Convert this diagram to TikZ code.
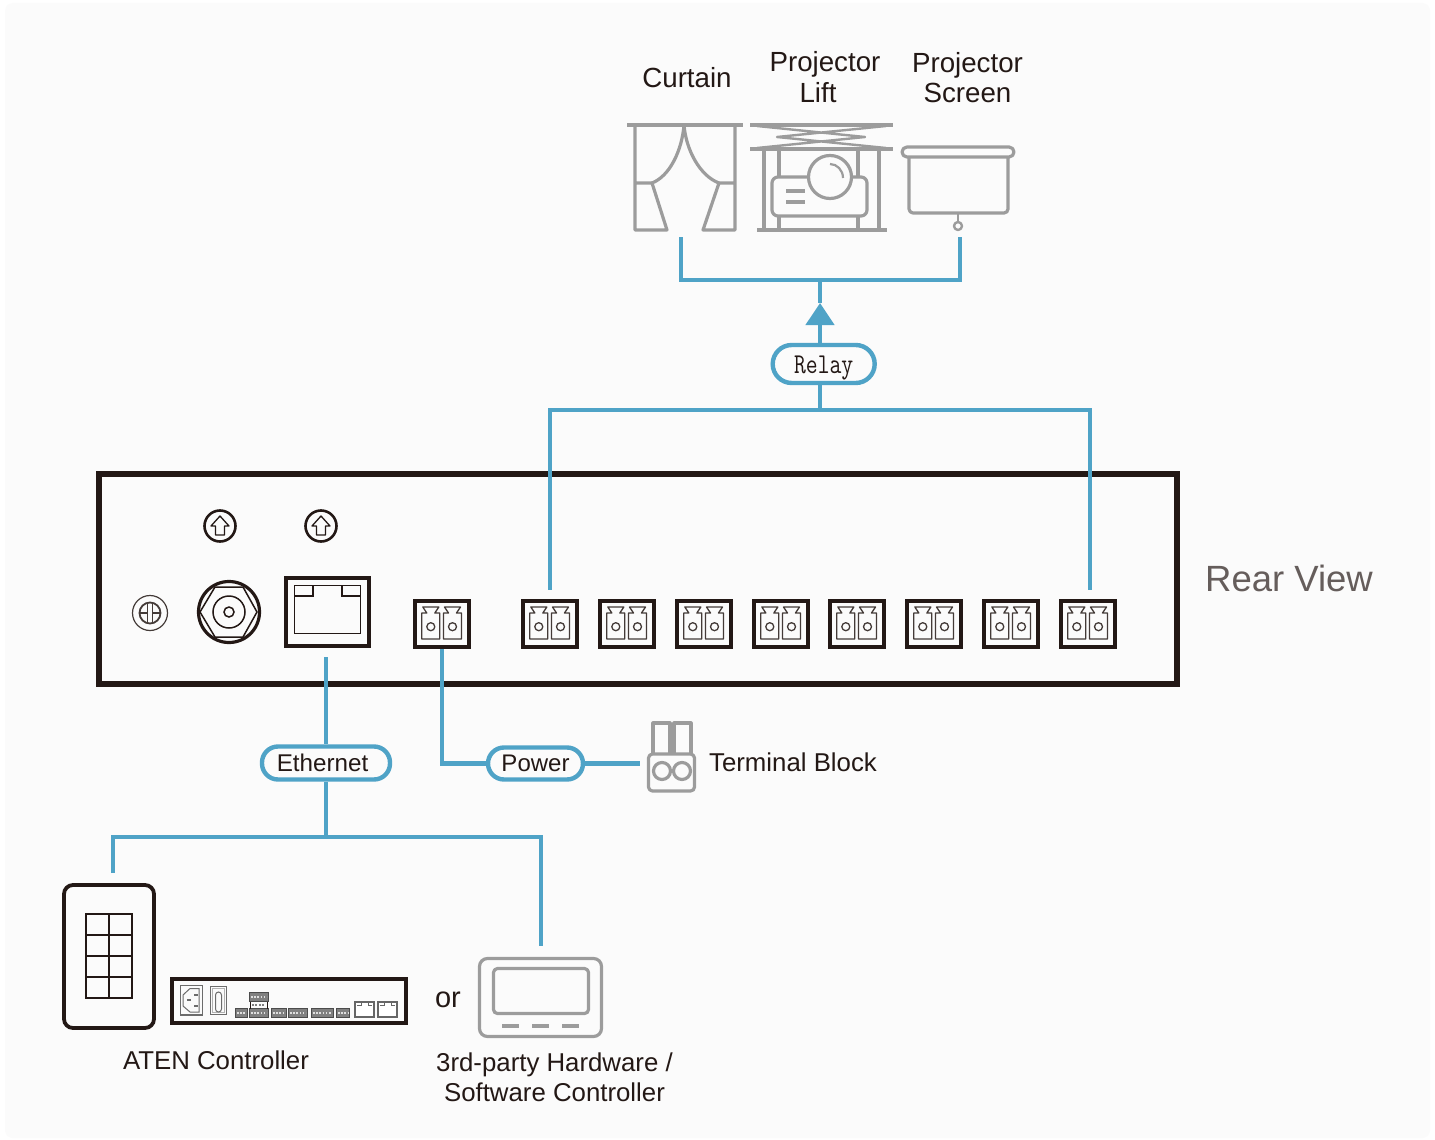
\documentclass[tikz,border=0pt]{standalone}
\usepackage{fontspec}
\setmainfont{Liberation Sans}
\usetikzlibrary{arrows.meta}
\definecolor{linkblue}{HTML}{4FA3C7}
\definecolor{icongray}{HTML}{9C9C9C}
\definecolor{darkline}{HTML}{231815}
\definecolor{pagebg}{HTML}{FBFBFB}
\definecolor{jackgray}{HTML}{808080}
\tikzset{
    toplabel/.style={text=darkline, align=center, inner sep=0pt, font=\fontsize{27.7}{30.5}\selectfont},
    label/.style={text=darkline, align=center, inner sep=0pt, font=\fontsize{25.8}{30.5}\selectfont},
    link/.style={draw=linkblue, line width=4.4pt},
    pill/.style={draw=linkblue, line width=4.4pt, fill=pagebg, rounded corners=16pt, inner sep=0pt, text=darkline},
    icon/.style={draw=icongray, line width=3.2pt, line join=round},
    dark/.style={draw=darkline, line width=3.8pt},
    termblock/.style={dark, minimum width=54.5pt, minimum height=46.5pt, inner sep=0pt},
    termports/.pic={
        \foreach \dx in {-11.2,10.5}{
            \draw[darkline!85, line width=1.3pt, line join=round, shift={(\dx,0)}]
                (-8,-17) -- (8,-17) -- (4,-11) -- (9,-11) -- (9,15) -- (-9,15) -- (-9,-11) -- (-4,-11) -- cycle
                (0,2.7) circle (4);
        }
    },
    upmark/.pic={
        \draw[darkline, line width=2.6pt] (0,0) circle (15.5);
        \draw[darkline, line width=1.3pt, line join=round]
            (0,-10) -- (9,0) -- (4.5,0) -- (4.5,9) -- (-4.5,9) -- (-4.5,0) -- (-9,0) -- cycle;
    },
    minijack/.style={fill=jackgray, draw=gray!60!black, line width=.8pt},
    jackpins/.style={draw=white!75!gray, line width=2pt, dash pattern=on 1.6pt off 1.6pt},
    minirj/.style={draw=gray!80!black, line width=1.6pt, fill=white},
}
\begin{document}
\begin{tikzpicture}[x=1pt,y=-1pt]
    \useasboundingbox (0,0) rectangle (1435,1140);
    \fill[white] (0,0) rectangle (1435,1140);
    \fill[pagebg, rounded corners=8pt] (5,3) rectangle (1430,1138);

    % rear panel
    \node[draw=darkline, line width=6pt, minimum width=1078pt, minimum height=210pt, inner sep=0pt] (panel) at (638,579) {};
    \node[label, text=darkline!70, font=\fontsize{36.5}{40}\selectfont] (rearview) at (1289,578) {Rear View};
    \pic at (220,526) {upmark};
    \pic at (321,526) {upmark};

    % ground screw
    \coordinate (gnd) at (150,613);
    \draw[darkline!85, line width=1.2pt] (gnd) circle (17.5);
    \draw[darkline!85, line width=1.8pt] (gnd) circle (10.5);
    \draw[darkline!85, line width=1.2pt]
        ([xshift=-2.5pt,yshift=-10pt]gnd) -- ([xshift=-2.5pt,yshift=10pt]gnd)
        ([xshift=2.5pt,yshift=-10pt]gnd) -- ([xshift=2.5pt,yshift=10pt]gnd)
        ([xshift=-10pt]gnd) -- ([xshift=-2.5pt]gnd)
        ([xshift=2.5pt]gnd) -- ([xshift=10pt]gnd);

    % coax
    \coordinate (coax) at (229,612);
    \draw[darkline, line width=3.2pt] (coax) circle (30.5);
    \draw[darkline, line width=1.5pt] (200,612) -- (215,587) -- (243,587) -- (257,612) -- (243,637) -- (215,637) -- cycle;
    \draw[darkline, line width=1.5pt] (coax) circle (16);
    \draw[darkline, line width=1.5pt] (coax) circle (5);

    % lan port
    \node[dark, minimum width=83pt, minimum height=68.5pt, inner sep=0pt] (lan) at (327.5,612) {};
    \draw[darkline, line width=1.5pt] (294.5,585.5) rectangle (360.5,633.5);
    \draw[darkline, line width=1.5pt] (294.5,596) -- (313,596) -- (313,585.5) (342,585.5) -- (342,596) -- (360.5,596);

    % terminals
    \node[termblock] (pwr) at (442,624) {};
    \pic at (pwr) {termports};
    \foreach \n/\x in {1/550,2/627,3/704,4/781,5/857,6/934,7/1011,8/1088}{
        \node[termblock] (t\n) at (\x,624) {};
        \pic at (t\n) {termports};
    }

    % curtain
    \draw[icon] (627,125) -- (743,125);
    \draw[icon] (635,125) -- (635,230) -- (667,230) -- (652,183) -- (635,183);
    \draw[icon] (735,125) -- (735,230) -- (703,230) -- (719,183) -- (735,183);
    \draw[icon] (652,183) .. controls (670,176) and (682,150) .. (684,125) .. controls (686,150) and (700,176) .. (719,183);
    \node[toplabel] (curtain) at (687,78) {Curtain};

    % projector lift
    \draw[icon] (750,125) -- (893,125) (750,149) -- (893,149);
    \draw[icon, line width=2.4pt] (757,126) -- (865,137) -- (757,148) (886,126) -- (777,137) -- (886,148);
    \draw[icon] (764,149) -- (764,230) (879,149) -- (879,230) (757,230) -- (887,230);
    \draw[icon] (779,149) -- (779,177) (858,149) -- (858,177) (779,216) -- (779,230) (858,216) -- (858,230);
    \draw[icon, rounded corners=6pt] (772,177) rectangle (867,216);
    \draw[icon, fill=pagebg] (830,177) circle (21.5);
    \draw[icon, line width=2.2pt] (830,164) arc[start angle=-90, end angle=0, x radius=13pt, y radius=-14pt];
    \draw[icon] (786,191) -- (805,191) (786,202) -- (805,202);
    \node[toplabel] (lift) at (818,77) {\hspace*{14pt}Projector\\Lift};

    % projector screen
    \draw[icon, rounded corners=5pt] (902,147) rectangle (1014,157);
    \draw[icon, rounded corners=4pt] (909,157) -- (909,213) -- (1008,213) -- (1008,157);
    \draw[icon, line width=2.4pt] (958,213) -- (958,222);
    \draw[icon, line width=2.4pt] (958,226) circle (4);
    \node[toplabel] (screen) at (967.5,77.5) {Projector\\Screen};

    % relay links
    \coordinate (curtainend) at (681,237);
    \coordinate (screenend) at (960,237);
    \coordinate (relayjoin) at (820,280);
    \coordinate (relaytip) at (820,303);
    \node[pill, minimum width=102pt, minimum height=38pt, rounded corners=19pt, font=\ttfamily\fontsize{23}{26}\selectfont] (relay) at (823.7,364) {\raisebox{-9.5pt}[0pt][0pt]{\scalebox{1}[1.25]{Relay}}};
    \coordinate (relaybus) at (820,410);
    \draw[link] (curtainend) |- (relayjoin) -| (screenend);
    \draw[link] (relayjoin) -- (relaytip);
    \draw[link, -{Triangle[length=22pt,width=28pt]}] (820,343) -- (relaytip);
    \draw[link] (820,384) -- (relaybus);
    \draw[link, shorten <=9pt] (t1.north) |- (relaybus);
    \draw[link, shorten <=9pt] ([xshift=2pt]t8.north) |- (relaybus);

    % ethernet
    \node[pill, minimum width=128pt, minimum height=33pt, font=\fontsize{24.2}{28}\selectfont, text depth=0pt] (eth) at (326,763) {\hspace*{-7pt}Ethernet};
    \coordinate (ethjoin) at (326,837);
    \coordinate (atenend) at (113,873);
    \coordinate (thirdend) at (541,946);
    \draw[link, shorten <=9pt] ([xshift=-1.5pt]lan.south) -- (eth.north);
    \draw[link] (eth.south) -- (ethjoin);
    \draw[link] (atenend) |- (ethjoin) -| (thirdend);

    % power
    \node[pill, minimum width=95pt, minimum height=32pt, font=\fontsize{24}{28}\selectfont] (power) at (535.5,763.5) {Power};
    \node[label] (tblabel) at (793,762) {Terminal Block};
    \coordinate (tbend) at (640,763.5);
    \draw[link] (pwr.south) |- (power.west);
    \draw[link] (power.east) -- (tbend);
    \draw[icon] (653,754) -- (653,723) -- (670,723) -- (670,754) (674,754) -- (674,723) -- (691,723) -- (691,754);
    \draw[icon, rounded corners=4pt] (648.5,754) rectangle (694.5,791);
    \draw[icon] (662,771) circle (8.5) (682,771) circle (8.5);

    % aten keypad
    \draw[dark, rounded corners=9pt] (64,885) rectangle (154,1028);
    \draw[darkline, line width=2pt] (86,914) rectangle (132,998) (109,914) -- (109,998);
    \foreach \y in {935,956,977}{
        \draw[darkline, line width=2pt] (86,\y) -- (132,\y);
    }

    % aten box
    \draw[draw=darkline, line width=4pt] (172,979) rectangle (406,1023);
    \draw[gray!85!black, line width=1.5pt] (180.5,985.5) rectangle (202.5,1015);
    \draw[gray!85!black, line width=1pt] (183,995) -- (190,988.5) -- (199,988.5) -- (199,1012) -- (190,1012) -- (183,1006) -- cycle;
    \draw[gray!85!black, line width=1.4pt] (187,1000) -- (191,1000) (194,995) -- (198,995) (194,1006) -- (198,1006);
    \draw[gray!85!black, line width=1.5pt] (210.5,986.5) rectangle (226.5,1014.5);
    \draw[gray!60, line width=1pt] (212.5,988.5) rectangle (224.5,1012.5);
    \draw[gray!85!black, line width=1pt, rounded corners=3pt] (215.5,992) rectangle (221.5,1012);
    \foreach \xa/\xb in {235/247,249/268,271/286,288/307,311/333,336/349}{
        \draw[minijack] (\xa,1008.5) rectangle (\xb,1017.5);
        \draw[jackpins] (\xa+2,1013) -- (\xb-1,1013);
    }
    \draw[minijack] (249,992) rectangle (268,1001.5);
    \draw[jackpins] (251,996.5) -- (267,996.5);
    \draw[darkline, line width=1pt] (250,1001.5) -- (250,1008.5) (267,1001.5) -- (267,1008.5);
    \draw[jackgray, line width=2pt, dash pattern=on 2pt off 1.4pt] (252,1005) -- (265,1005);
    \foreach \xa/\xb in {355/374,378/397}{
        \draw[minirj] (\xa,1002) rectangle (\xb,1017);
        \draw[gray!80!black, line width=.8pt] (\xa+2,1005) -- (\xa+6,1005) -- (\xa+6,1003) (\xb-6,1003) -- (\xb-6,1005) -- (\xb-2,1005);
    }
    \node[label] (aten) at (216,1060) {ATEN Controller};

    % third party controller
    \node[label, font=\fontsize{29}{32}\selectfont] (orlabel) at (448,1000) {or};
    \draw[icon, rounded corners=8pt] (479.5,958.5) rectangle (601.5,1036.5);
    \draw[icon, rounded corners=4pt] (493.5,968.5) rectangle (588.5,1013.5);
    \draw[icon] (502,1026) -- (519,1026) (532,1026) -- (549,1026) (562,1026) -- (579,1026);
    \node[label] (third) at (554.5,1077.5) {3rd-party Hardware /\\Software Controller};
\end{tikzpicture}
\end{document}
